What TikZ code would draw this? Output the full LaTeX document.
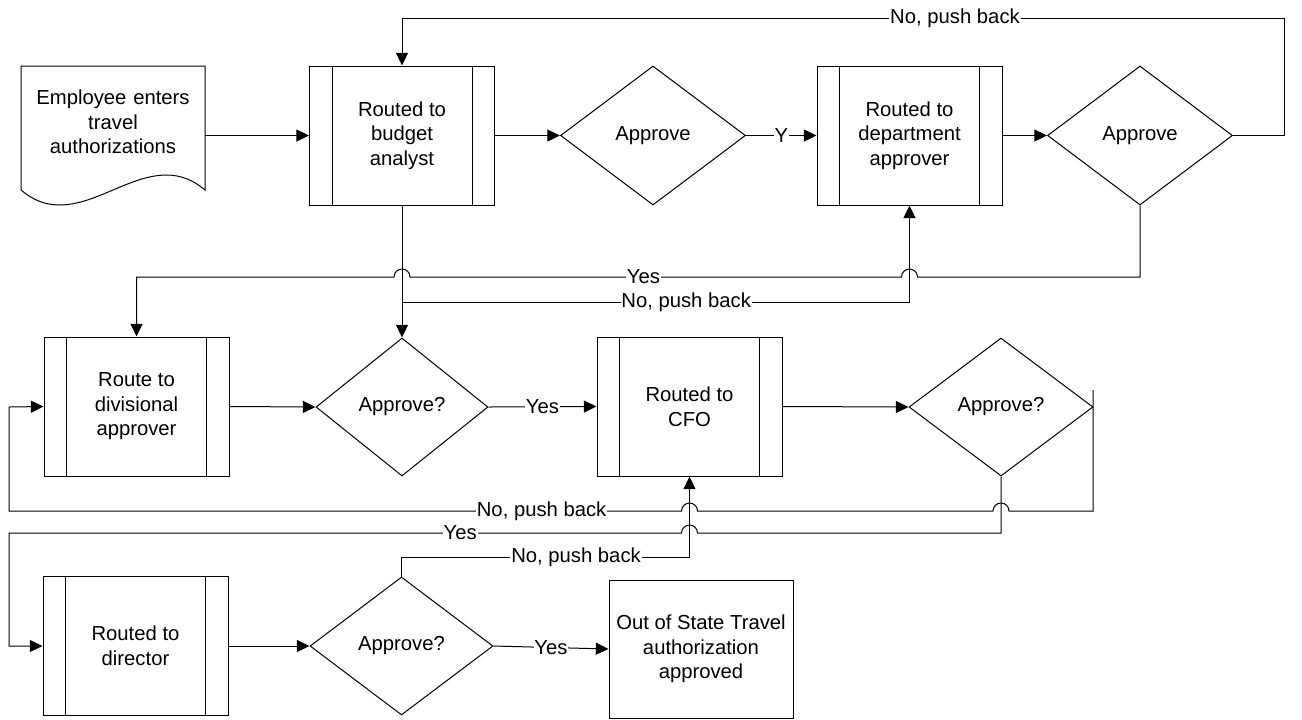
\documentclass[tikz,border=0pt]{standalone}
\usepackage{fontspec}
\setmainfont{Liberation Sans}
\usetikzlibrary{shapes.geometric,arrows.meta}
\begin{document}
\begin{tikzpicture}[x=0.75pt,y=-0.75pt,
  every node/.style={font=\fontsize{15.2}{18.4}\selectfont, align=center},
  proc/.style={draw, rectangle, minimum width=138.75pt, minimum height=104.25pt, inner sep=0pt, line width=0.75pt},
  dec/.style={draw, diamond, minimum width=138.75pt, minimum height=104.25pt, inner sep=0pt, line width=0.75pt},
  term/.style={draw, rectangle, minimum width=138pt, minimum height=103.5pt, inner sep=0pt, line width=0.75pt},
  conn/.style={line width=0.75pt, draw=black},
  arr/.style={conn, -{Triangle[length=9.5pt,width=9pt]}},
  lbl/.style={fill=white, inner sep=0.6pt},
  jump/.style={}
]
\fill[white] (0,0) rectangle (1302,719);
\useasboundingbox (0,0) rectangle (1302,719);

% document shape
\draw[line width=0.75pt] (205,190) .. controls (144,138) and (82,242) .. (21,190) -- (21,66) -- (205,66) -- cycle;
\node[text width=138pt, inner sep=0pt] (doc) at (113,122) {Employee enters\\travel\\authorizations};

% row 1
\node[proc] (b1) at (402,135.5) {Routed to\\budget\\analyst};
\node[dec] (d1) at (653,135.5) {Approve};
\node[proc] (b2) at (909.5,135.5) {Routed to\\department\\approver};
\node[dec] (d2) at (1140,135.5) {Approve};

% row 2
\node[proc] (b3) at (136.5,406.5) {Route to\\divisional\\approver};
\node[dec, minimum width=129pt, minimum height=103.5pt] (d3) at (402,407) {Approve?};
\node[proc] (b4) at (689.5,406.5) {Routed to\\CFO};
\node[dec, minimum width=138pt, minimum height=103.5pt] (d4) at (1001,407) {Approve?};

% row 3
\node[proc] (b5) at (135.5,646) {Routed to\\director};
\node[dec, minimum width=137.25pt, minimum height=103.5pt] (d5) at (401.5,646) {Approve?};
\node[term] (b6) at (701,649) {Out of State Travel\\authorization\\approved};

% subprocess inner bars
\foreach \n in {b1,b2,b3,b4,b5}{
  \draw[line width=0.75pt] ([xshift=17.25pt]\n.north west) -- ([xshift=17.25pt]\n.south west);
  \draw[line width=0.75pt] ([xshift=-17.25pt]\n.north east) -- ([xshift=-17.25pt]\n.south east);
}

% connectors row 1
\draw[arr] (doc.east |- b1.west) -- (b1.west);
\draw[arr] (b1.east) -- (d1.west);
\draw[arr] (d1.east) -- node[lbl]{Y} (b2.west);
\draw[arr] (b2.east) -- (d2.west);
\draw[arr] (d2.east) -- (1284,135.5) -- (1284,18) -- node[lbl,pos=0.373]{No, push back} (402,18) -- (b1.north);

% between rows 1 and 2
\draw[arr] (b1.south) -- (d3.north);
\draw[arr] (d2.south) -- (1140,277) -- (917.5,277) arc[start angle=0,end angle=180,radius=6pt]
  -- node[lbl,pos=0.525]{Yes} (410,277) arc[start angle=0,end angle=180,radius=6pt] -- (136.5,277) -- (b3.north);
\coordinate (nj) at (402,302);
\draw[arr] (nj) -- node[lbl,pos=0.56]{No, push back} (909.5,302) -- (b2.south);

% row 2
\draw[arr] (b3.east) -- (d3.west);
\draw[arr] (d3.east) -- node[lbl]{Yes} (b4.west);
\draw[arr] (b4.east) -- (d4.west);

% between rows 2 and 3
\coordinate (aS) at (1093,390);
\draw[arr] (aS) -- (1093,511) -- (1009,511) arc[start angle=0,end angle=180,radius=6pt]
  -- (697.5,511) arc[start angle=0,end angle=180,radius=6pt]
  -- node[lbl,pos=0.208]{No, push back} (9,511) -- (9,407) -- (b3.west);
\draw[arr] (d4.south) -- (1001,533) -- (697.5,533) arc[start angle=0,end angle=180,radius=6pt]
  -- node[lbl,pos=0.329]{Yes} (9,533) -- (9,646) -- (b5.west);
\draw[arr] (d5.north) -- (401.5,557) -- node[lbl,pos=0.606]{No, push back} (689.5,557) -- (b4.south);

% row 3
\draw[arr] (b5.east) -- (d5.west);
\draw[arr] (d5.east) -- node[lbl]{Yes} (b6.west);
\end{tikzpicture}
\end{document}
